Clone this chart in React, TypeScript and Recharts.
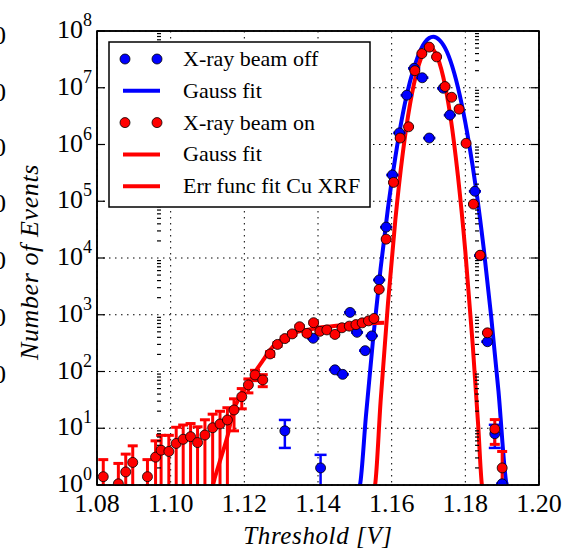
import React from 'react';
import {
  ComposedChart,
  Line,
  Scatter,
  XAxis,
  YAxis,
  CartesianGrid,
  ErrorBar,
} from 'recharts';

// [threshold V, events, err low, err high]
const beamOff = [
  [1.131, 9, 4.5, 5],
  [1.1387, 385],
  [1.1407, 2, 1.1, 1.4],
  [1.1446, 107],
  [1.1467, 89],
  [1.1487, 1100],
  [1.1506, 490],
  [1.1528, 233],
  [1.1546, 424],
  [1.1566, 4100],
  [1.1585, 35000],
  [1.1602, 290000],
  [1.1621, 1.6e6],
  [1.1641, 7.4e6],
  [1.1661, 2.2e7],
  [1.1683, 1.5e7],
  [1.1702, 1.3e6],
  [1.174, 9.8e6],
  [1.1758, 3.3e6],
  [1.1826, 1.5e5],
  [1.184, 11000],
  [1.186, 335],
  [1.188, 8, 3.5, 3.5],
  [1.19, 1.05],
];

const beamOn = [
  [1.0817, 1.4, 0.5, 1.4],
  [1.0858, 1.05, 0.15, 1.35],
  [1.0878, 1.7, 0.8, 1.8],
  [1.0897, 2.5, 1.6, 2.4],
  [1.0937, 1.4, 0.5, 1.4],
  [1.0959, 3.1, 2.2, 2.9],
  [1.0974, 4.1, 3.2, 3.4],
  [1.0995, 3.9, 3.0, 3.6],
  [1.1015, 5.4, 4.5, 5.0],
  [1.1034, 6.4, 5.5, 5.0],
  [1.1054, 7.1, 6.2, 5.0],
  [1.1073, 5.6, 4.7, 5.0],
  [1.1093, 7.6, 6.7, 6.5],
  [1.1114, 10.2, 9.3, 7.5],
  [1.1134, 11.9, 11.0, 8],
  [1.1154, 14, 13.1, 9],
  [1.1172, 21, 12, 12],
  [1.1193, 36, 14, 14],
  [1.1211, 58, 16, 16],
  [1.1229, 87, 18, 18],
  [1.125, 71, 17, 17],
  [1.127, 204, 20, 20],
  [1.129, 300, 22, 22],
  [1.131, 380, 24, 24],
  [1.133, 460, 25, 25],
  [1.135, 615, 28, 28],
  [1.137, 470, 25, 25],
  [1.1388, 725, 30, 30],
  [1.1405, 510, 25, 25],
  [1.1424, 540, 26, 26],
  [1.1446, 450, 24, 24],
  [1.1465, 590, 27, 27],
  [1.1485, 630, 28, 28],
  [1.1503, 670, 28, 28],
  [1.152, 720, 30, 30],
  [1.1537, 780, 30, 30],
  [1.1552, 860, 32, 32],
  [1.1566, 2800],
  [1.1585, 21500],
  [1.1605, 2.15e5],
  [1.1623, 1.3e6],
  [1.1646, 2.05e6],
  [1.1663, 2e7],
  [1.1682, 4e7],
  [1.1702, 5.2e7],
  [1.1722, 3.5e7],
  [1.1745, 1.05e7],
  [1.1763, 6.8e6],
  [1.1783, 4.2e6],
  [1.1802, 1.05e6],
  [1.1822, 8.9e4],
  [1.184, 1.12e4],
  [1.186, 480],
  [1.188, 9.7, 4.5, 4.5],
  [1.19, 2, 1.1, 1.9],
];

const gaussOff = [
  [1.1508, 0.8], [1.1514, 1.0], [1.153, 16], [1.155, 400], [1.157, 6600],
  [1.159, 76000], [1.161, 6.0e5], [1.163, 3.4e6], [1.165, 1.3e7], [1.167, 3.4e7],
  [1.169, 6.3e7], [1.1713, 7.9e7], [1.173, 6.9e7], [1.175, 4.3e7], [1.177, 1.8e7],
  [1.179, 5.2e6], [1.181, 1.05e6], [1.183, 1.5e5], [1.185, 14500], [1.187, 950],
  [1.189, 45], [1.1912, 1.0], [1.1916, 0.8],
];

const gaussOn = [
  [1.1552, 0.8], [1.1555, 1.0], [1.157, 30], [1.159, 1600], [1.161, 47000],
  [1.163, 6.9e5], [1.165, 5.2e6], [1.167, 2.1e7], [1.169, 4.5e7], [1.1703, 5.1e7],
  [1.172, 4.0e7], [1.174, 1.55e7], [1.176, 3.0e6], [1.178, 2.75e5], [1.18, 13000],
  [1.182, 300], [1.1835, 11], [1.1845, 1.0], [1.1848, 0.8],
];

const errFunc = [
  [1.1112, 0.8], [1.1115, 1], [1.113, 2.2], [1.1143, 4.1], [1.1155, 7.5],
  [1.1169, 19.5], [1.1185, 33], [1.1206, 54], [1.123, 100], [1.1251, 158],
  [1.127, 240], [1.1288, 316], [1.131, 390], [1.1336, 480], [1.137, 540],
  [1.141, 600], [1.145, 640], [1.15, 680], [1.1541, 710], [1.158, 720],
];

const xTicks = [1.08, 1.1, 1.12, 1.14, 1.16, 1.18, 1.2];
const yTicks = [1, 10, 100, 1e3, 1e4, 1e5, 1e6, 1e7, 1e8];
const yMinorTicks = yTicks.slice(0, -1).flatMap((d) => [2, 3, 4, 5, 6, 7, 8, 9].map((m) => m * d));

const legendItems = [
  { label: 'X-ray beam off', color: '#0000ff', kind: 'dots' },
  { label: 'Gauss fit', color: '#0000ff', kind: 'line' },
  { label: 'X-ray beam on', color: '#ff0000', kind: 'dots' },
  { label: 'Gauss fit', color: '#ff0000', kind: 'line' },
  { label: 'Err func fit Cu XRF', color: '#ff0000', kind: 'line' },
];

const SERIF = { fontFamily: "'Liberation Serif', 'Times New Roman', serif" };
const BLUE = '#0000ff';
const RED = '#ff0000';

const toPoints = (rows: number[][]) =>
  rows.map(([x, y, lo = 0, hi = lo]) => ({ x, y, err: [lo, hi] }));
const toLine = (rows: number[][]) => rows.map(([x, y]) => ({ x, y }));

const XTick = ({ x, y, payload }: any) => (
  <text x={x} y={y + 27} textAnchor="middle" style={SERIF} fontSize={26} fill="#000">
    {Number(payload.value).toFixed(2)}
  </text>
);

const YTick = ({ x, y, payload }: any) => (
  <text x={x - 5} y={y + 7} textAnchor="end" style={SERIF} fontSize={26} fill="#000">
    <tspan>10</tspan>
    <tspan dy={-12} fontSize={18}>
      {Math.round(Math.log10(payload.value))}
    </tspan>
  </text>
);

const NoTick = () => <g />;

const XTitle = ({ viewBox }: any) => (
  <text
    x={viewBox.x + viewBox.width / 2}
    y={viewBox.y + 59}
    textAnchor="middle"
    style={SERIF}
    fontStyle="italic"
    fontSize={25}
    letterSpacing={0.6}
    fill="#000"
  >
    Threshold [V]
  </text>
);

const YTitle = () => (
  <text
    x={38}
    y={262}
    transform="rotate(-90, 38, 262)"
    textAnchor="middle"
    style={SERIF}
    fontStyle="italic"
    fontSize={26}
    letterSpacing={0.6}
    fill="#000"
  >
    Number of Events
  </text>
);

const dot = (color: string) => (p: any) =>
  <circle cx={p.cx} cy={p.cy} r={5} fill={color} stroke="#000" strokeWidth={0.8} />;

const tickStroke = { stroke: '#000', strokeWidth: 1.2 };
const frame = { stroke: '#000', strokeWidth: 1.6 };

// drawn over the chart: spines clip the marks, plus the legend box
const Overlay: React.FC = () => (
  <svg width={565} height={552} style={{ position: 'absolute', left: 0, top: 0, pointerEvents: 'none' }}>
    <rect x={96} y={486} width={450} height={7} fill="#fff" />
    <rect x={97} y={31} width={442} height={454} fill="none" stroke="#000" strokeWidth={1.6} />
    {/* clipped digits of the neighbouring panel */}
    {[35, 92, 147, 203, 260, 317, 374].map((cy) => (
      <text key={cy} x={-7} y={cy + 9} style={SERIF} fontSize={26} fill="#000">0</text>
    ))}
    <rect x={109} y={42} width={261} height={165} fill="#fff" stroke="#000" strokeWidth={1.5} />
    {legendItems.map((item, i) => {
      const cy = 59 + i * 31.8;
      return (
        <g key={i}>
          {item.kind === 'dots' ? (
            <>
              <circle cx={125} cy={cy} r={5} fill={item.color} stroke="#000" strokeWidth={0.8} />
              <circle cx={157} cy={cy} r={5} fill={item.color} stroke="#000" strokeWidth={0.8} />
            </>
          ) : (
            <line x1={123} x2={160} y1={cy} y2={cy} stroke={item.color} strokeWidth={4} />
          )}
          <text x={183} y={cy + 7} style={SERIF} fontSize={22} fill="#000">
            {item.label}
          </text>
        </g>
      );
    })}
  </svg>
);

export default function App() {
  return (
    <div style={{ position: 'absolute', left: 0, top: 0, width: 565, height: 552, background: '#fff' }}>
      <ComposedChart width={565} height={552} margin={{ top: 31, right: 26, bottom: 7, left: 7 }}>
        <CartesianGrid stroke="#000" strokeWidth={1} strokeDasharray="1.5 4.5" />
        <XAxis
          xAxisId={0}
          dataKey="x"
          type="number"
          domain={[1.08, 1.2]}
          allowDataOverflow
          ticks={xTicks}
          interval={0}
          tickLine={false}
          tickSize={0}
          tickMargin={0}
          axisLine={frame}
          tick={<XTick />}
          height={60}
          label={<XTitle />}
        />
        <XAxis
          xAxisId="top"
          type="number"
          orientation="top"
          mirror
          domain={[1.08, 1.2]}
          allowDataOverflow
          ticks={xTicks}
          interval={0}
          tickSize={8}
          tickLine={tickStroke}
          axisLine={frame}
          tick={<NoTick />}
        />
        <XAxis
          xAxisId="bottom"
          type="number"
          orientation="bottom"
          mirror
          domain={[1.08, 1.2]}
          allowDataOverflow
          ticks={xTicks}
          interval={0}
          tickSize={8}
          tickLine={tickStroke}
          axisLine={false}
          tick={<NoTick />}
        />
        <YAxis
          yAxisId={0}
          dataKey="y"
          type="number"
          scale="log"
          domain={[1, 1e8]}
          allowDataOverflow
          ticks={yTicks}
          interval={0}
          tickLine={false}
          tickSize={0}
          tickMargin={0}
          axisLine={frame}
          tick={<YTick />}
          width={90}
          label={<YTitle />}
        />
        {(['left', 'right'] as const).flatMap((side) => [
          <YAxis
            key={`${side}-major`}
            yAxisId={`${side}-major`}
            type="number"
            scale="log"
            orientation={side}
            mirror
            domain={[1, 1e8]}
            allowDataOverflow
            ticks={yTicks}
            interval={0}
            tickSize={8}
            tickLine={tickStroke}
            axisLine={side === 'right' ? frame : false}
            tick={<NoTick />}
          />,
          <YAxis
            key={`${side}-minor`}
            yAxisId={`${side}-minor`}
            type="number"
            scale="log"
            orientation={side}
            mirror
            domain={[1, 1e8]}
            allowDataOverflow
            ticks={yMinorTicks}
            interval={0}
            tickSize={4}
            tickLine={tickStroke}
            axisLine={false}
            tick={<NoTick />}
          />,
        ])}
        <Line
          data={toLine(gaussOff)}
          dataKey="y"
          type="monotone"
          stroke={BLUE}
          strokeWidth={4}
          dot={false}
          isAnimationActive={false}
        />
        <Line
          data={toLine(gaussOn)}
          dataKey="y"
          type="monotone"
          stroke={RED}
          strokeWidth={4}
          dot={false}
          isAnimationActive={false}
        />
        <Line
          data={toLine(errFunc)}
          dataKey="y"
          type="monotone"
          stroke={RED}
          strokeWidth={4}
          dot={false}
          isAnimationActive={false}
        />
        <Scatter data={toPoints(beamOff)} shape={dot(BLUE)} isAnimationActive={false}>
          <ErrorBar dataKey="err" direction="y" width={6} stroke={BLUE} strokeWidth={2.5} />
        </Scatter>
        <Scatter data={toPoints(beamOn)} shape={dot(RED)} isAnimationActive={false}>
          <ErrorBar dataKey="err" direction="y" width={5} stroke={RED} strokeWidth={3} />
        </Scatter>
      </ComposedChart>
      <Overlay />
    </div>
  );
}
